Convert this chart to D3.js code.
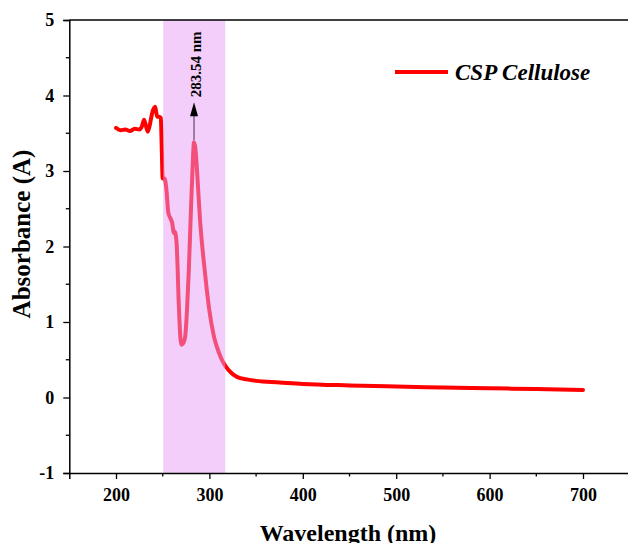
<!DOCTYPE html>
<html>
<head>
<meta charset="utf-8">
<script src="https://cdn.jsdelivr.net/npm/d3@7"></script>
<style>
  body { margin: 0; background: #fff; }
  text { font-family: "Liberation Serif", "Times New Roman", serif; }
</style>
</head>
<body>
<div id="chart"></div>
<script>
// spectrum values
var wavelength = [200, 205, 210, 215, 220, 225, 228, 230, 232, 234, 236, 239, 242, 244, 246, 248, 249, 250, 252, 254, 256, 258, 260, 262, 263, 264, 265, 266, 267, 268, 269, 270, 272, 274, 276, 278, 280, 282, 283.5, 285, 286, 288, 290, 292, 294, 297, 300, 305, 310, 315, 320, 325, 330, 340, 350, 375, 400, 450, 500, 550, 600, 650, 700];
var absorbance = [3.57, 3.54, 3.55, 3.53, 3.56, 3.55, 3.60, 3.68, 3.60, 3.52, 3.60, 3.78, 3.85, 3.72, 3.72, 3.70, 3.30, 2.90, 2.90, 2.75, 2.45, 2.38, 2.32, 2.18, 2.20, 2.15, 2.02, 1.70, 1.30, 1.00, 0.78, 0.70, 0.72, 0.80, 1.15, 1.70, 2.40, 3.05, 3.38, 3.30, 3.15, 2.75, 2.35, 2.05, 1.80, 1.45, 1.15, 0.80, 0.60, 0.46, 0.37, 0.31, 0.27, 0.24, 0.22, 0.20, 0.18, 0.16, 0.145, 0.133, 0.122, 0.112, 0.10];
var xTicks = [200, 300, 400, 500, 600, 700];
var yTicks = [-1, 0, 1, 2, 3, 4, 5];
var bandRange = [250.5, 317];
var peakLabel = "283.54 nm";
var peakX = 283.54;
var peakA = 3.38;
var seriesName = "CSP Cellulose";

var svgWidth = 628, svgHeight = 543;

var svg = d3.select("#chart").append("svg")
  .attr("width", svgWidth)
  .attr("height", svgHeight);

var x = d3.scaleLinear().domain([150, 750]).range([69.3, 629.7]);
var y = d3.scaleLinear().domain([-1, 5]).range([473, 20]);

var data = wavelength.map(function(w, i) { return {w: w, a: absorbance[i]}; });

var fmt = function(d) { return String(d); };

// spectrum line
var line = d3.line()
  .x(function(d) { return x(d.w); })
  .y(function(d) { return y(d.a); })
  .curve(d3.curveMonotoneX);

svg.append("path")
  .datum(data)
  .attr("d", line)
  .attr("fill", "none")
  .attr("stroke", "#ff0000")
  .attr("stroke-width", 4)
  .attr("stroke-linejoin", "round")
  .attr("stroke-linecap", "round");

// arrow line from the peak (under the band)
svg.append("line")
  .attr("x1", x(peakX)).attr("x2", x(peakX))
  .attr("y1", y(peakA) - 2).attr("y2", y(peakA) - 30)
  .attr("stroke", "#000").attr("stroke-width", 1.3);

// shaded band on top
svg.append("rect")
  .attr("x", x(bandRange[0]))
  .attr("y", y(5))
  .attr("width", x(bandRange[1]) - x(bandRange[0]))
  .attr("height", y(-1) - y(5))
  .attr("fill", "rgb(231,157,245)")
  .attr("opacity", 0.5);

// arrow head + label on top of band
svg.append("path")
  .attr("d", "M" + (x(peakX) - 4) + "," + (y(peakA) - 26) + " L" + x(peakX) + "," + (y(peakA) - 40) + " L" + (x(peakX) + 4) + "," + (y(peakA) - 26) + " z")
  .attr("fill", "#000");

svg.append("text")
  .attr("transform", "translate(" + (x(peakX) + 7) + "," + (y(peakA) - 45) + ") rotate(-90)")
  .style("font-size", "15px")
  .style("font-weight", "bold")
  .text(peakLabel);

// axes
var xAxis = svg.append("g")
  .attr("transform", "translate(0," + y(-1) + ")")
  .call(d3.axisBottom(x).tickValues(xTicks).tickSize(6).tickPadding(9).tickFormat(fmt));
var yAxis = svg.append("g")
  .attr("transform", "translate(" + x(150) + ",0)")
  .call(d3.axisLeft(y).tickValues(yTicks).tickSize(6).tickPadding(9).tickFormat(fmt));

// minor ticks
svg.append("g").selectAll("line")
  .data(d3.range(250, 751, 100))
  .enter().append("line")
  .attr("x1", function(d) { return x(d); }).attr("x2", function(d) { return x(d); })
  .attr("y1", y(-1)).attr("y2", y(-1) + 3.5)
  .attr("stroke", "#000").attr("stroke-width", 1.3);
svg.append("g").selectAll("line")
  .data(d3.range(-0.5, 5, 1))
  .enter().append("line")
  .attr("x1", x(150)).attr("x2", x(150) - 3.5)
  .attr("y1", function(d) { return y(d); }).attr("y2", function(d) { return y(d); })
  .attr("stroke", "#000").attr("stroke-width", 1.3);

// top frame line
svg.append("line")
  .attr("x1", x(150)).attr("x2", svgWidth)
  .attr("y1", y(5)).attr("y2", y(5))
  .attr("stroke", "#000").attr("stroke-width", 1.5);

[xAxis, yAxis].forEach(function(g) {
  g.select(".domain").attr("stroke-width", 1.5);
  g.selectAll(".tick line").attr("stroke-width", 1.3);
  g.selectAll(".tick text")
    .style("font-family", "'Liberation Serif', serif")
    .style("font-weight", "bold")
    .style("font-size", "18px")
    .attr("fill", "#000");
});

// axis titles
svg.append("text")
  .attr("x", 348).attr("y", 541)
  .attr("text-anchor", "middle")
  .style("font-size", "24px")
  .style("font-weight", "bold")
  .text("Wavelength (nm)");

svg.append("text")
  .attr("transform", "translate(30,234) rotate(-90)")
  .attr("text-anchor", "middle")
  .style("font-size", "25px")
  .style("font-weight", "bold")
  .text("Absorbance (A)");

// legend
svg.append("line")
  .attr("x1", 395).attr("x2", 448)
  .attr("y1", 72).attr("y2", 72)
  .attr("stroke", "#ff0000").attr("stroke-width", 4);
svg.append("text")
  .attr("x", 455).attr("y", 80)
  .style("font-size", "23px")
  .style("font-weight", "bold")
  .style("font-style", "italic")
  .text(seriesName);
</script>
</body>
</html>
